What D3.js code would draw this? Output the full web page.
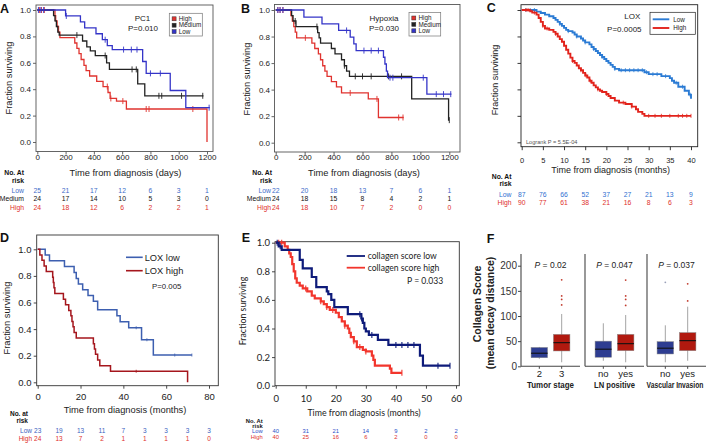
<!DOCTYPE html>
<html>
<head>
<meta charset="utf-8">
<script src="https://cdn.jsdelivr.net/npm/d3@7"></script>
<style>
  body { margin: 0; background: #fff; }
  svg { display: block; }
</style>
</head>
<body>
<div id="figure"></div>
<script>
// ---------- data ----------
const survTicks = [0, 0.2, 0.4, 0.6, 0.8, 1.0];

// A: PC1 (days)
const daysTicks = [0, 200, 400, 600, 800, 1000, 1200];
const pc1High = [[0,1],[125,0.958],[130,0.917],[140,0.875],[150,0.833],[160,0.79],[265,0.75],[280,0.71],[295,0.67],[310,0.625],[330,0.58],[345,0.54],[370,0.50],[420,0.46],[465,0.42],[500,0.375],[515,0.33],[560,0.31],[630,0.25],[1200,0]];
const pc1HighCensor = [15, 30, 50, 495, 520, 605, 770, 790, 1100];
const pc1Medium = [[0,1],[115,0.958],[125,0.917],[135,0.875],[145,0.833],[155,0.81],[320,0.765],[350,0.72],[375,0.69],[410,0.655],[490,0.60],[510,0.55],[710,0.44],[760,0.35],[1175,0.35]];
const pc1MediumCensor = [280, 480, 670, 700, 860, 880, 1020, 1170];
const pc1Low = [[0,1],[200,0.955],[305,0.91],[335,0.865],[415,0.82],[460,0.775],[495,0.73],[530,0.70],[745,0.61],[770,0.52],[940,0.39],[1050,0.26],[1220,0.26]];
const pc1LowCensor = [8, 25, 45, 205, 480, 610, 665, 705, 800, 870, 1215];
const pc1RiskLow = [25, 21, 17, 12, 6, 3, 1];
const pc1RiskMedium = [24, 17, 14, 10, 5, 3, 0];
const pc1RiskHigh = [24, 18, 12, 6, 2, 2, 1];

// B: Hypoxia (days)
const hypHigh = [[0,1],[105,0.958],[115,0.917],[125,0.875],[135,0.833],[145,0.79],[250,0.75],[270,0.71],[295,0.67],[310,0.625],[325,0.58],[340,0.54],[355,0.50],[385,0.46],[420,0.42],[455,0.375],[640,0.33],[710,0.19],[885,0.19]];
const hypHighCensor = [15, 30, 50, 205, 515, 700, 850, 880];
const hypMedium = [[0,1],[110,0.958],[120,0.917],[140,0.875],[290,0.83],[300,0.79],[310,0.75],[385,0.71],[410,0.67],[455,0.625],[475,0.58],[490,0.54],[510,0.50],[940,0.33],[1195,0.17],[1200,0.17]];
const hypMediumCensor = [135, 285, 475, 550, 600, 660, 780, 870, 1200];
const hypLow = [[0,1],[195,0.947],[320,0.896],[435,0.846],[515,0.795],[540,0.745],[556,0.694],[745,0.644],[755,0.593],[765,0.54],[773,0.49],[1045,0.366],[1215,0.366]];
const hypLowCensor = [15, 30, 50, 490, 610, 660, 710, 790, 810, 1020, 1110, 1160, 1210];
const hypRiskLow = [22, 20, 18, 13, 7, 6, 1];
const hypRiskMedium = [24, 18, 15, 8, 4, 2, 1];
const hypRiskHigh = [24, 18, 10, 7, 2, 0, 0];

// C: LOX (months)
const loxTicks = [0, 5, 10, 15, 20, 25, 30, 35, 40];
const loxLow = [[0,1],[3.5,0.988],[4.5,0.977],[5.5,0.965],[6.5,0.953],[7.5,0.94],[8,0.925],[8.5,0.91],[9,0.895],[9.5,0.88],[10,0.865],[10.5,0.85],[11,0.84],[12,0.83],[12.5,0.815],[13,0.80],[14,0.785],[14.5,0.77],[15,0.755],[16,0.74],[16.5,0.72],[17,0.705],[17.5,0.69],[18,0.675],[18.5,0.66],[19,0.645],[19.5,0.63],[20,0.615],[20.5,0.60],[21,0.585],[21.5,0.57],[22,0.555],[23,0.545],[29,0.53],[30,0.515],[33,0.50],[35,0.485],[35.5,0.465],[36,0.45],[37,0.42],[38.5,0.39],[39.5,0.36],[40,0.33]];
const loxLowCensor = [1, 2, 3, 9, 11, 13, 15, 17, 19, 22, 23.5, 24.5, 25.5, 26.5, 27.5, 28.5, 29.5, 31, 32, 34, 36.5, 38, 39.8];
const loxHigh = [[0,1],[2,0.99],[2.5,0.98],[3.5,0.965],[4,0.94],[4.5,0.91],[5,0.88],[5.5,0.86],[6.5,0.85],[7.5,0.835],[8,0.82],[8.5,0.80],[9,0.78],[9.5,0.76],[10,0.73],[10.5,0.70],[11,0.67],[11.5,0.64],[12,0.615],[12.5,0.60],[13,0.58],[13.5,0.56],[14,0.545],[14.5,0.525],[15,0.505],[15.5,0.49],[16,0.465],[16.5,0.45],[17,0.43],[17.5,0.415],[18,0.40],[18.5,0.39],[19,0.38],[20,0.365],[20.5,0.35],[21,0.335],[22,0.315],[23,0.30],[24.5,0.29],[26,0.27],[27,0.25],[27.5,0.23],[28.5,0.215],[29,0.20],[40,0.20]];
const loxHighCensor = [1, 1.5, 3, 5, 6, 8, 12, 14, 15.2, 16.2, 18, 20, 24, 26, 30, 31.5, 33, 35, 37, 38, 39, 40];
const loxRiskLow = [87, 76, 66, 52, 37, 27, 21, 13, 9];
const loxRiskHigh = [90, 77, 61, 38, 21, 16, 8, 6, 3];

// D: LOX low / high (months)
const dTicks = [0, 20, 40, 60, 80];
const dRiskTicks = [0, 10, 20, 30, 40, 50, 60, 70, 80];
const dLow = [[0,1],[3.5,0.957],[5.5,0.913],[12.5,0.87],[17,0.826],[18,0.78],[19,0.74],[21,0.696],[23.5,0.652],[26,0.609],[28,0.545],[37,0.50],[38.5,0.455],[42.5,0.41],[48.5,0.32],[54,0.205],[72,0.205]];
const dLowCensor = [46, 51, 64, 72];
const dHigh = [[0,1],[1,0.958],[2,0.917],[3,0.875],[4,0.833],[7,0.79],[7.3,0.75],[7.6,0.71],[8,0.667],[12,0.625],[13,0.583],[14.5,0.54],[15.5,0.50],[16,0.458],[16.5,0.417],[17,0.375],[18,0.333],[26,0.29],[26.5,0.25],[27,0.21],[28,0.167],[29,0.125],[34,0.083],[70,0]];
const dHighCensor = [46];
const dRiskLow = [23, 19, 13, 11, 7, 3, 3, 3, 3];
const dRiskHigh = [24, 13, 7, 2, 1, 1, 1, 1, 0];

// E: collagen score (months)
const eTicks = [0, 10, 20, 30, 40, 50, 60];
const eLow = [[0,1],[1,0.975],[2,0.95],[8,0.88],[9,0.82],[12,0.76],[13.5,0.69],[17,0.66],[17.5,0.64],[18.5,0.60],[19.5,0.55],[24,0.50],[28.5,0.47],[29,0.44],[29.5,0.40],[30,0.38],[31,0.355],[34,0.32],[37.5,0.285],[48,0.21],[49,0.14],[58,0.14]];
const eLowCensor = [0.5, 1.5, 28, 28.6, 32, 40, 42, 44, 46, 54, 58];
const eHigh = [[0,1],[3,0.975],[4,0.95],[4.5,0.925],[5,0.90],[5.5,0.85],[6,0.80],[6.5,0.75],[7,0.72],[8,0.70],[9,0.68],[10.5,0.66],[12,0.63],[13,0.61],[15,0.59],[16,0.57],[17,0.55],[18,0.53],[20,0.51],[21,0.48],[22,0.45],[23,0.42],[24,0.40],[24.5,0.37],[25,0.34],[26,0.31],[27,0.27],[29,0.25],[30,0.24],[32,0.21],[32.5,0.18],[33,0.14],[38,0.12],[38.5,0.09],[42,0.09]];
const eHighCensor = [1, 2, 10, 15, 17, 19, 23, 26, 28, 30, 42];
const eRiskLow = [40, 31, 21, 14, 9, 2, 2];
const eRiskHigh = [40, 25, 16, 6, 2, 0, 0];

// F: collagen score box plots  [lowWhisker, q1, median, q3, highWhisker, outliers]
const fFacets = ["Tumor stage", "LN positive", "Vascular Invasion"];
const fGroups = [["2", "3"], ["no", "yes"], ["no", "yes"]];
const fPvalues = ["0.02", "0.047", "0.037"];
const fTumorBoxes = [[15, 17, 26, 37.5, 38.5, []], [8, 30.5, 47, 63.5, 104, [122, 133, 140, 172]]];
const fLnBoxes = [[11, 18, 34, 50, 85.5, []], [8, 31, 45, 63.5, 102, [121, 133, 140, 171.5]]];
const fVascBoxes = [[8, 24.5, 36, 49, 81.5, [167]], [11, 31, 51, 67, 118.5, [130, 164]]];
const fTicks = [0, 50, 100, 150, 200];

// ---------- drawing ----------
const FONT = '"Liberation Sans", Arial, Helvetica, sans-serif';
const FONT_E = 'Lato, "Liberation Sans", sans-serif';

const svg = d3.select("#figure")
    .append("svg")
    .attr("width", 709)
    .attr("height", 443)
    .style("font-family", FONT);

// survival value of a step curve at time t
const survAt = (curve, t) => {
    let s = curve[0][1];
    curve.forEach(([ti, si]) => { if (ti <= t) s = si; });
    return s;
};

const drawKM = (cfg) => {
    const g = svg.append("g").style("font-family", cfg.font);
    const x = d3.scaleLinear().domain(cfg.xDomain).range(cfg.xRange);
    const y = d3.scaleLinear().domain([0, 1]).range(cfg.yRange);
    const [left, top, right, bottom] = cfg.frame;

    // box around the plot
    g.append("rect")
        .attr("x", left).attr("y", top)
        .attr("width", right - left).attr("height", bottom - top)
        .attr("fill", "none")
        .attr("stroke", cfg.frameColor)
        .attr("stroke-width", cfg.frameWidth);

    const xAxis = g.append("g")
        .attr("transform", `translate(0,${bottom})`)
        .call(d3.axisBottom(x).tickValues(cfg.xTicks).tickSize(cfg.tick).tickFormat(d3.format("d")));
    xAxis.selectAll("text").attr("y", cfg.xTickLabelY - bottom).attr("dy", "0.35em");

    const yAxis = g.append("g")
        .attr("transform", `translate(${left},0)`)
        .call(d3.axisLeft(y).tickValues(survTicks).tickSize(cfg.tick)
            .tickFormat(cfg.yLabels ? d3.format(".1f") : () => ""));
    yAxis.selectAll("text").attr("x", cfg.yTickLabelX - left);

    [xAxis, yAxis].forEach(a => {
        a.select(".domain").remove();
        a.attr("font-family", null).attr("font-size", cfg.tickFont);
        a.selectAll("line").attr("stroke", cfg.frameColor).attr("stroke-width", cfg.frameWidth);
        a.selectAll("text").attr("fill", "#222");
    });

    // curves + censor marks
    const line = d3.line().x(d => x(d[0])).y(d => y(d[1])).curve(d3.curveStepAfter);
    cfg.curves.forEach(c => {
        g.append("path")
            .datum(c.data)
            .attr("d", line)
            .attr("fill", "none")
            .attr("stroke", c.color)
            .attr("stroke-width", cfg.lineWidth);

        g.selectAll(null)
            .data(c.censor)
            .join("line")
            .attr("x1", t => x(t)).attr("x2", t => x(t))
            .attr("y1", t => y(survAt(c.data, t)) - cfg.censorSize)
            .attr("y2", t => y(survAt(c.data, t)) + cfg.censorSize)
            .attr("stroke", c.color)
            .attr("stroke-width", cfg.censorWidth);
    });

    g.append("text")
        .attr("x", cfg.xLabel[0]).attr("y", cfg.xLabel[1])
        .attr("text-anchor", "middle").attr("dy", "0.35em")
        .attr("font-size", cfg.labelFont).attr("fill", "#222")
        .text(cfg.xTitle);

    g.append("text")
        .attr("transform", `translate(${cfg.yLabel[0]},${cfg.yLabel[1]}) rotate(-90)`)
        .attr("text-anchor", "middle").attr("dy", "0.35em")
        .attr("font-size", cfg.labelFont).attr("fill", "#222")
        .text("Fraction surviving");

    return { g, x, y };
};

// "No. At risk" table under a panel
const riskTable = (x, cfg) => {
    const g = svg.append("g").style("font-family", cfg.font || FONT).attr("font-size", cfg.size);
    cfg.head.forEach((h, i) => {
        g.append("text")
            .attr("x", cfg.headX).attr("y", cfg.headY[i])
            .attr("dy", "0.35em").attr("text-anchor", "end")
            .attr("font-weight", "bold").attr("fill", "#111")
            .text(h);
    });
    cfg.rows.forEach((row, i) => {
        g.append("text")
            .attr("x", cfg.labelX).attr("y", cfg.rowY[i])
            .attr("dy", "0.35em").attr("text-anchor", "end")
            .attr("fill", row.color)
            .text(row.label);
        g.selectAll(null)
            .data(row.values)
            .join("text")
            .attr("x", (d, j) => x(cfg.ticks[j]))
            .attr("y", cfg.rowY[i])
            .attr("dy", "0.35em").attr("text-anchor", "middle")
            .attr("fill", row.color)
            .text(d => d);
    });
};

const addText = (g, x, y, txt, size, opts = {}) => g.append("text")
    .attr("x", x).attr("y", y).attr("dy", "0.35em")
    .attr("text-anchor", opts.anchor || "middle")
    .attr("font-size", size)
    .attr("font-weight", opts.weight || null)
    .attr("fill", opts.color || "#222")
    .text(txt);

// square legend used in A and B
const squareLegend = (g, box, items) => {
    g.append("rect")
        .attr("x", box[0]).attr("y", box[1]).attr("width", box[2]).attr("height", box[3])
        .attr("fill", "#fff").attr("stroke", "#777").attr("stroke-width", 0.7);
    items.forEach((it, i) => {
        const yy = box[1] + 5.5 + i * 6.4;
        g.append("rect")
            .attr("x", box[0] + 2.8).attr("y", yy - 2).attr("width", 4).attr("height", 4)
            .attr("fill", it.color).attr("stroke", "#333").attr("stroke-width", 0.5);
        addText(g, box[0] + 9.5, yy, it.label, 6.3, { anchor: "start" });
    });
};

// ---- A ----
const colHigh = "#e0332f", colMed = "#222", colLow = "#3434c8";
const tabLow = "#3e6cc9", tabHigh = "#e0302b";

const A = drawKM({
    font: FONT, xDomain: [0, 1200], xRange: [37.3, 207], yRange: [142, 10],
    frame: [36, 5, 213, 151.5], frameColor: "#555", frameWidth: 0.9,
    xTicks: daysTicks, tick: 3, tickFont: 8, xTickLabelY: 157, yTickLabelX: 31, yLabels: true,
    curves: [
        { data: pc1High, censor: pc1HighCensor, color: colHigh },
        { data: pc1Medium, censor: pc1MediumCensor, color: colMed },
        { data: pc1Low, censor: pc1LowCensor, color: colLow }
    ],
    lineWidth: 1.3, censorSize: 3, censorWidth: 0.9,
    xTitle: "Time from diagnosis (days)", xLabel: [125.5, 172.7], yLabel: [8.3, 78], labelFont: 9.3
});
addText(A.g, 142.5, 18, "PC1", 8);
addText(A.g, 143, 28.5, "P=0.010", 8);
squareLegend(A.g, [169.3, 13.3, 33, 22.7], [
    { label: "High", color: colHigh }, { label: "Medium", color: colMed }, { label: "Low", color: colLow }
]);
riskTable(A.x, {
    size: 6.8, head: ["No. At", "risk"], headX: 24, headY: [173, 181], labelX: 24,
    rowY: [190.7, 199, 207.3], ticks: daysTicks,
    rows: [
        { label: "Low", values: pc1RiskLow, color: tabLow },
        { label: "Medium", values: pc1RiskMedium, color: "#111" },
        { label: "High", values: pc1RiskHigh, color: tabHigh }
    ]
});

// ---- B ----
const B = drawKM({
    font: FONT, xDomain: [0, 1200], xRange: [275.7, 449.3], yRange: [142.7, 10],
    frame: [274.5, 4.5, 460, 152], frameColor: "#555", frameWidth: 0.9,
    xTicks: daysTicks, tick: 3, tickFont: 8, xTickLabelY: 157, yTickLabelX: 270, yLabels: true,
    curves: [
        { data: hypHigh, censor: hypHighCensor, color: colHigh },
        { data: hypMedium, censor: hypMediumCensor, color: colMed },
        { data: hypLow, censor: hypLowCensor, color: colLow }
    ],
    lineWidth: 1.3, censorSize: 3, censorWidth: 0.9,
    xTitle: "Time from diagnosis (days)", xLabel: [364, 172.7], yLabel: [246.7, 79], labelFont: 9.3
});
addText(B.g, 384, 18.3, "Hypoxia", 8);
addText(B.g, 384, 28.5, "P=0.030", 8);
squareLegend(B.g, [409, 12.5, 31.7, 23.5], [
    { label: "High", color: colHigh }, { label: "Medium", color: colMed }, { label: "Low", color: colLow }
]);
riskTable(B.x, {
    size: 6.8, head: ["No. At", "risk"], headX: 272, headY: [173, 181], labelX: 271,
    rowY: [190.7, 199, 207.3], ticks: daysTicks,
    rows: [
        { label: "Low", values: hypRiskLow, color: tabLow },
        { label: "Medium", values: hypRiskMedium, color: "#111" },
        { label: "High", values: hypRiskHigh, color: tabHigh }
    ]
});

// ---- C ----
const cLowCol = "#2b7bd4", cHighCol = "#e2231c";
const C = drawKM({
    font: FONT, xDomain: [0, 40], xRange: [521.7, 691], yRange: [142.3, 10],
    frame: [521, 4.7, 697.7, 146.7], frameColor: "#222", frameWidth: 0.9,
    xTicks: loxTicks, tick: 3.5, tickFont: 7.5, xTickLabelY: 160.7, yTickLabelX: 517, yLabels: false,
    curves: [
        { data: loxLow, censor: loxLowCensor, color: cLowCol },
        { data: loxHigh, censor: loxHighCensor, color: cHighCol }
    ],
    lineWidth: 1.9, censorSize: 2, censorWidth: 0.8,
    xTitle: "Time from diagnosis (months)", xLabel: [610.7, 170], yLabel: [495, 80], labelFont: 9
});
addText(C.g, 632.3, 15.7, "LOX", 8);
addText(C.g, 624.3, 29, "P=0.0005", 8);
C.g.append("rect")
    .attr("x", 650).attr("y", 12.3).attr("width", 45.3).attr("height", 22)
    .attr("fill", "#fff").attr("stroke", "#222").attr("stroke-width", 0.7);
[["Low", cLowCol, 19.3], ["High", cHighCol, 28]].forEach(([lab, col, yy]) => {
    C.g.append("line").attr("x1", 652.7).attr("x2", 669.3).attr("y1", yy).attr("y2", yy)
        .attr("stroke", col).attr("stroke-width", 1.9);
    addText(C.g, 673.3, yy, lab, 6.3, { anchor: "start" });
});
addText(C.g, 526, 141.7, "Logrank P = 5.5E-04", 5.6, { anchor: "start", color: "#555" });
riskTable(C.x, {
    size: 6.8, head: ["No. At", "risk"], headX: 511.5, headY: [176.7, 184], labelX: 511.5,
    rowY: [194.3, 202.3], ticks: loxTicks,
    rows: [
        { label: "Low", values: loxRiskLow, color: "#2f6fd0" },
        { label: "High", values: loxRiskHigh, color: tabHigh }
    ]
});

// ---- D ----
const dLowCol = "#3d5fb0", dHighCol = "#a5161d";
const D = drawKM({
    font: FONT, xDomain: [0, 80], xRange: [37.7, 209], yRange: [382.3, 249.3],
    frame: [36.7, 235, 218.3, 385.7], frameColor: "#333", frameWidth: 0.9,
    xTicks: dTicks, tick: 3, tickFont: 9.5, xTickLabelY: 396.7, yTickLabelX: 31.5, yLabels: true,
    curves: [
        { data: dLow, censor: dLowCensor, color: dLowCol },
        { data: dHigh, censor: dHighCensor, color: dHighCol }
    ],
    lineWidth: 1.5, censorSize: 1.5, censorWidth: 0.8,
    xTitle: "Time from diagnosis (months)", xLabel: [125, 409.3], yLabel: [6.7, 318], labelFont: 9.3
});
[["LOX low", dLowCol, 257.3], ["LOX high", dHighCol, 270.7]].forEach(([lab, col, yy]) => {
    D.g.append("line").attr("x1", 126).attr("x2", 142.7).attr("y1", yy).attr("y2", yy)
        .attr("stroke", col).attr("stroke-width", 1.6);
    addText(D.g, 144.7, yy, lab, 9.3, { anchor: "start" });
});
addText(D.g, 166.7, 286.7, "P=0.005", 7.8);
riskTable(D.x, {
    size: 6.5, head: ["No. at", "risk"], headX: 28, headY: [413.3, 421], labelX: 32,
    rowY: [430.7, 439], ticks: dRiskTicks,
    rows: [
        { label: "Low", values: dRiskLow, color: "#3a62c0" },
        { label: "High", values: dRiskHigh, color: tabHigh }
    ]
});

// ---- E ----
const eLowCol = "#0e1b7a", eHighCol = "#f2352c";
const E = drawKM({
    font: FONT_E, xDomain: [0, 60], xRange: [275.7, 456], yRange: [385.7, 242.7],
    frame: [275, 241.7, 459.3, 385.7], frameColor: "#333", frameWidth: 0.9,
    xTicks: eTicks, tick: 3, tickFont: 9.5, xTickLabelY: 399, yTickLabelX: 270, yLabels: true,
    curves: [
        { data: eHigh, censor: eHighCensor, color: eHighCol },
        { data: eLow, censor: eLowCensor, color: eLowCol }
    ],
    lineWidth: 2.2, censorSize: 3, censorWidth: 1.1,
    xTitle: "Time from diagnosis (months)", xLabel: [364, 413.3], yLabel: [243, 311], labelFont: 8.8
});
[["collagen score low", eLowCol, 256], ["collagen score high", eHighCol, 267.7]].forEach(([lab, col, yy]) => {
    E.g.append("line").attr("x1", 346.7).attr("x2", 365).attr("y1", yy).attr("y2", yy)
        .attr("stroke", col).attr("stroke-width", 1.8);
    addText(E.g, 367.7, yy, lab, 8.6, { anchor: "start" });
});
addText(E.g, 443.3, 281, "P = 0.033", 8.6, { anchor: "end" });
riskTable(E.x, {
    font: FONT, size: 5.8, head: ["No. At", "risk"], headX: 262.7, headY: [421, 426], labelX: 262.7,
    rowY: [431, 437], ticks: eTicks,
    rows: [
        { label: "Low", values: eRiskLow, color: "#2a4fc8" },
        { label: "High", values: eRiskHigh, color: tabHigh }
    ]
});

// ---- F ----
const fY = d3.scaleLinear().domain([0, 200]).range([366.3, 265.7]);
const facetX = [[521, 580], [585, 644], [647, 706]];
const facetTitleWidth = [47, 41, 57];   // narrow bold titles
const facetTitleX = [550.5, 614.5, 675];
const fBoxes = [fTumorBoxes, fLnBoxes, fVascBoxes];
const boxFill = ["#2e3d91", "#b1190f"];
const outCol = ["#9aa0b8", "#c0392b"];
const fG = svg.append("g").style("font-family", FONT);

const fAxis = fG.append("g")
    .attr("transform", `translate(${facetX[0][0]},0)`)
    .call(d3.axisLeft(fY).tickValues(fTicks).tickSize(3));
fAxis.select(".domain").remove();
fAxis.attr("font-family", null).attr("font-size", 10);
fAxis.selectAll("line").attr("stroke", "#444");
fAxis.selectAll("text").attr("fill", "#333").attr("x", -4);

fFacets.forEach((name, i) => {
    const [x0, x1] = facetX[i];
    const xp = d3.scalePoint().domain(fGroups[i]).range([x0, x1]).padding(0.82);

    fG.append("line").attr("x1", x0).attr("x2", x0).attr("y1", 254).attr("y2", fY(0))
        .attr("stroke", "#444").attr("stroke-width", 1.1);
    fG.append("line").attr("x1", x0).attr("x2", x1).attr("y1", fY(0)).attr("y2", fY(0))
        .attr("stroke", "#444").attr("stroke-width", 1.1);

    fBoxes[i].forEach((b, j) => {
        const cx = xp(fGroups[i][j]);
        const [lo, q1, med, q3, hi, outs] = b;
        const bw = 16.5;
        fG.append("line").attr("x1", cx).attr("x2", cx).attr("y1", fY(lo)).attr("y2", fY(hi))
            .attr("stroke", "#9a9a9a").attr("stroke-width", 0.9);
        fG.append("rect")
            .attr("x", cx - bw / 2).attr("y", fY(q3))
            .attr("width", bw).attr("height", fY(q1) - fY(q3))
            .attr("fill", boxFill[j]).attr("stroke", "#8a8a8a").attr("stroke-width", 0.5);
        fG.append("line").attr("x1", cx - bw / 2).attr("x2", cx + bw / 2)
            .attr("y1", fY(med)).attr("y2", fY(med))
            .attr("stroke", "#111").attr("stroke-width", 1.1);
        fG.selectAll(null).data(outs).join("circle")
            .attr("cx", cx).attr("cy", d => fY(d)).attr("r", 0.9)
            .attr("fill", outCol[j]);
        fG.append("line").attr("x1", cx).attr("x2", cx).attr("y1", fY(0)).attr("y2", fY(0) + 2.5)
            .attr("stroke", "#444");
        addText(fG, cx, 374, fGroups[i][j], 9.5, { color: "#222" });
    });

    const pt = fG.append("text")
        .attr("x", (x0 + x1) / 2).attr("y", 265).attr("dy", "0.35em")
        .attr("text-anchor", "middle").attr("font-size", 8.5).attr("fill", "#222");
    pt.append("tspan").attr("font-style", "italic").text("P");
    pt.append("tspan").text(` = ${fPvalues[i]}`);

    // narrow bold title: squeeze horizontally to the width seen in the figure
    const title = fG.append("text")
        .attr("x", 0).attr("y", 0).attr("dy", "0.35em")
        .attr("text-anchor", "middle")
        .attr("font-size", 9.3).attr("font-weight", "bold")
        .attr("fill", "#222")
        .text(name);
    const natural = title.node().getComputedTextLength();
    title.attr("transform", `translate(${facetTitleX[i]},385) scale(${facetTitleWidth[i] / natural},1)`);
});
fG.append("text")
    .attr("transform", "translate(477,304) rotate(-90)")
    .attr("text-anchor", "middle").attr("dy", "0.35em")
    .attr("font-size", 10.5).attr("font-weight", "bold").attr("fill", "#222")
    .text("Collagen Score");
fG.append("text")
    .attr("transform", "translate(490.3,313) rotate(-90)")
    .attr("text-anchor", "middle").attr("dy", "0.35em")
    .attr("font-size", 10.5).attr("font-weight", "bold").attr("fill", "#222")
    .text("(mean decay distance)");

// ---- panel letters ----
const letters = [["A", 0, 13.3], ["B", 241, 12.7], ["C", 486.7, 12.3], ["D", 0, 241.7], ["E", 241.7, 241.7], ["F", 486.7, 242.7]];
svg.selectAll(".panel-letter")
    .data(letters)
    .join("text")
    .attr("class", "panel-letter")
    .attr("x", d => d[1]).attr("y", d => d[2])
    .attr("font-size", 12.5).attr("font-weight", "bold").attr("fill", "#111")
    .text(d => d[0]);
</script>
</body>
</html>
